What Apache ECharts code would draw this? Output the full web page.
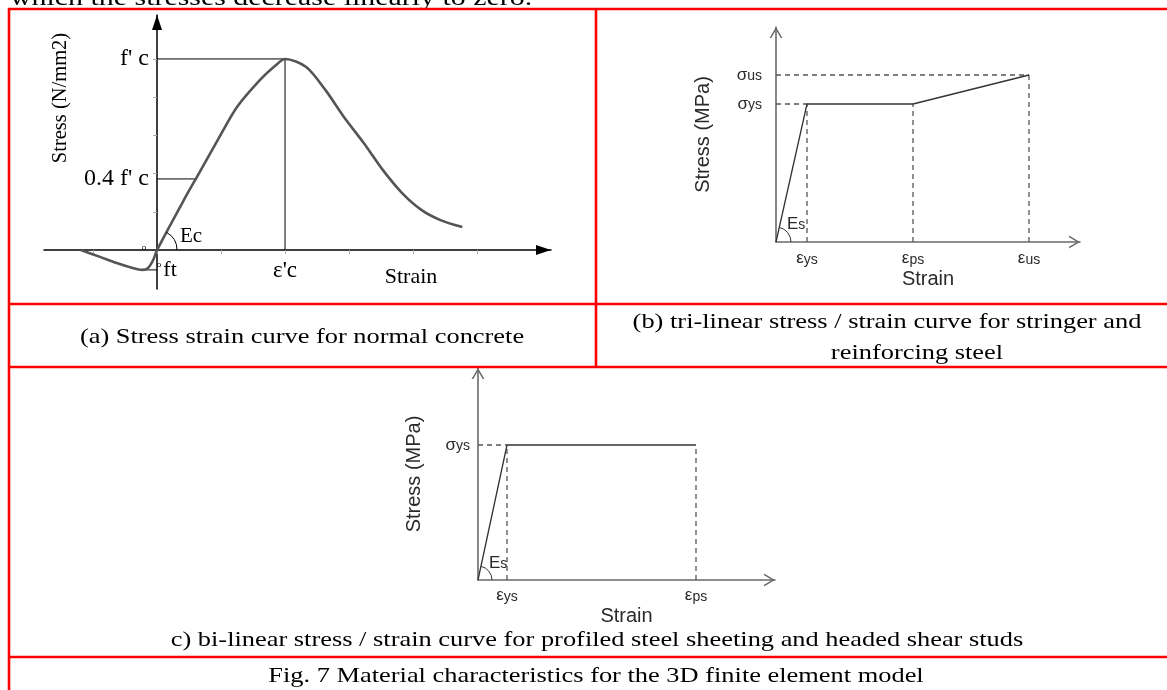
<!DOCTYPE html>
<html><head><meta charset="utf-8">
<script src="https://cdn.jsdelivr.net/npm/echarts@6/dist/echarts.min.js"></script>
<style>html,body{margin:0;padding:0;background:#fff}#c{width:1167px;height:690px}</style>
</head><body><div id="c"></div>
<script>
// ---------- Panel (a): normal concrete ----------
const aStrain = [-1.19,-0.89,-0.63,-0.38,-0.23,-0.14,-0.06,0,0.42,0.66,0.95,1.25,1.61,1.86,2.0,2.33,2.63,2.92,3.23,3.53,3.83,4.13,4.42,4.77];
const aStress = [0,-0.18,-0.34,-0.47,-0.52,-0.47,-0.26,0,1.31,2.02,2.88,3.74,4.45,4.84,5.0,4.79,4.19,3.48,2.80,2.09,1.49,1.05,0.79,0.60];
const aPeak = [2, 5];            // [epsilon'c, f'c]
const aForty = [0.62, 1.86];     // 0.4 f'c point on curve
const aFt = [-0.23, -0.52];      // tensile strength point
const aYTickValues = [1.86, 5];
const aYTickLabels = ["0.4 f' c", "f' c"];
const aXTickValues = [2];
const aXTickLabels = ["ε'c"];
const aMinorTicksY = [1, 2, 3, 4, 5];
const aMinorTicksX = [-1, 0, 1, 2, 3, 4, 5];

// ---------- Panel (b): tri-linear steel ----------
const bStrain = [0, 3.1, 13.7, 25.3];
const bStress = [0, 13.8, 13.8, 16.7];
const bXTickValues = [3.1, 13.7, 25.3];
const bXTickLabels = [['ε','ys'], ['ε','ps'], ['ε','us']];
const bYTickValues = [13.8, 16.7];
const bYTickLabels = [['σ','ys'], ['σ','us']];

// ---------- Panel (c): bi-linear steel ----------
const cStrain = [0, 2.9, 21.8];
const cStress = [0, 13.5, 13.5];
const cXTickValues = [2.9, 21.8];
const cXTickLabels = [['ε','ys'], ['ε','ps']];
const cYTickValues = [13.5];
const cYTickLabels = [['σ','ys']];

const SERIF = "'Liberation Serif','Times New Roman',serif";
const SANS = "'Liberation Sans',Arial,sans-serif";
const CHEVRON = 'path://M0,10 L6,0 L12,10 L10.4,10 L6,2.6 L1.6,10 Z';

function lookup(values, labels) {
  return function (v) {
    for (let i = 0; i < values.length; i++) if (Math.abs(values[i] - v) < 1e-6) return labels[i];
    return '';
  };
}
function richLookup(values, labels) {
  const f = lookup(values, labels);
  return function (v) { const l = f(v); return l ? '{g|' + l[0] + '}{s|' + l[1] + '}' : ''; };
}
const greekRich = {
  g: {fontFamily: SANS, fontSize: 17, color: '#2a2a2a'},
  s: {fontFamily: SANS, fontSize: 14, color: '#2a2a2a', padding: [3, 0, 0, 0]}
};

function pairs(xs, ys) { return xs.map((x, i) => [x, ys[i]]); }
function seg(p, q, gi, style) {
  return {type: 'line', xAxisIndex: gi, yAxisIndex: gi, data: [p, q], symbol: 'none', silent: true,
    animation: false, lineStyle: style, z: 2};
}
const thinBlack = {color: '#000', width: 1};
const dashGray = {color: '#555', width: 1.3, type: [5, 4]};
const solidGray = {color: '#333', width: 1.3};

const series = [
  // (a)
  seg([0, aPeak[1]], aPeak, 0, thinBlack),
  seg([aPeak[0], 0], aPeak, 0, thinBlack),
  seg([0, aForty[1]], aForty, 0, thinBlack),
  seg(aFt, [0, aFt[1]], 0, thinBlack),
  {type: 'line', xAxisIndex: 0, yAxisIndex: 0, data: pairs(aStrain, aStress), symbol: 'none',
    smooth: 0.3, silent: true, animation: false, z: 3,
    lineStyle: {color: '#555', width: 2.6}},
  // (b)
  seg([0, bStress[1]], [bStrain[1], bStress[1]], 1, dashGray),
  seg([0, bStress[3]], [bStrain[3], bStress[3]], 1, dashGray),
  seg([bStrain[1], 0], [bStrain[1], bStress[1]], 1, dashGray),
  seg([bStrain[2], 0], [bStrain[2], bStress[2]], 1, dashGray),
  seg([bStrain[3], 0], [bStrain[3], bStress[3]], 1, dashGray),
  {type: 'line', xAxisIndex: 1, yAxisIndex: 1, data: pairs(bStrain, bStress), symbol: 'none',
    silent: true, animation: false, z: 3, lineStyle: solidGray},
  // (c)
  seg([0, cStress[1]], [cStrain[1], cStress[1]], 2, dashGray),
  seg([cStrain[1], 0], [cStrain[1], cStress[1]], 2, dashGray),
  seg([cStrain[2], 0], [cStrain[2], cStress[2]], 2, dashGray),
  {type: 'line', xAxisIndex: 2, yAxisIndex: 2, data: pairs(cStrain, cStress), symbol: 'none',
    silent: true, animation: false, z: 3, lineStyle: solidGray}
];

function steelAxis(gi, isX, min, max, tv, tl, name, gap, lblMargin) {
  return {
    type: 'value', gridIndex: gi, min: min, max: max,
    axisLine: {show: true, onZero: false, lineStyle: {color: '#6a6a6a', width: 1.6},
      symbol: ['none', CHEVRON], symbolSize: [13, 11], symbolOffset: [0, -5.5]},
    axisTick: {show: false},
    splitLine: {show: false},
    axisLabel: {show: true, customValues: tv, formatter: richLookup(tv, tl), rich: greekRich, margin: lblMargin},
    name: name, nameLocation: 'middle', nameGap: gap, nameRotate: isX ? 0 : 90,
    nameTextStyle: {fontFamily: SANS, fontSize: 20, color: '#2a2a2a'}
  };
}

const option = {
  backgroundColor: '#fff',
  animation: false,
  grid: [
    {left: 44, top: 15, width: 507, height: 274, outerBoundsMode: 'none', containLabel: false},
    {left: 776, top: 27, width: 304, height: 215, outerBoundsMode: 'none', containLabel: false},
    {left: 478, top: 368, width: 297, height: 212, outerBoundsMode: 'none', containLabel: false}
  ],
  xAxis: [
    {type: 'value', gridIndex: 0, min: -1.766, max: 6.156, position: 'bottom', offset: 0,
      axisLine: {show: true, onZero: false, lineStyle: {color: '#000', width: 1.5},
        symbol: ['none', 'triangle'], symbolSize: [10, 15], symbolOffset: [0, -7.5]},
      axisTick: {show: true, customValues: aMinorTicksX, length: 4, lineStyle: {color: '#aaa'}},
      splitLine: {show: false},
      axisLabel: {show: true, customValues: aXTickValues, formatter: lookup(aXTickValues, aXTickLabels),
        fontFamily: SERIF, fontSize: 23, color: '#000', margin: 9}},
    steelAxis(1, true, 0, 30.4, bXTickValues, bXTickLabels, 'Strain', 27, 8),
    steelAxis(2, true, 0, 29.7, cXTickValues, cXTickLabels, 'Strain', 26, 7)
  ],
  yAxis: [
    {type: 'value', gridIndex: 0, min: -1.02, max: 6.15, position: 'left', offset: 0,
      axisLine: {show: true, onZero: false, lineStyle: {color: '#000', width: 1.5},
        symbol: ['none', 'triangle'], symbolSize: [10, 15], symbolOffset: [0, -7.5]},
      axisTick: {show: true, customValues: aMinorTicksY, length: 4, lineStyle: {color: '#aaa'}},
      splitLine: {show: false},
      axisLabel: {show: true, customValues: aYTickValues, formatter: lookup(aYTickValues, aYTickLabels),
        fontFamily: SERIF, fontSize: 24, color: '#000', margin: 8}},
    steelAxis(1, false, 0, 21.5, bYTickValues, bYTickLabels, 'Stress (MPa)', 63, 14),
    steelAxis(2, false, 0, 21.2, cYTickValues, cYTickLabels, 'Stress (MPa)', 54, 8)
  ],
  series: series
};

const chart = echarts.init(document.getElementById('c'));
chart.setOption(option);

function px(gi, pt) { return chart.convertToPixel({gridIndex: gi}, pt); }

// move panel (a) axes so they cross at the data origin (labels travel with them)
const oA0 = px(0, [0, 0]);
const gA = px(0, [option.xAxis[0].min, option.yAxis[0].min]);
chart.setOption({
  xAxis: [{offset: -(gA[1] - oA0[1])}, {}, {}],
  yAxis: [{offset: -(oA0[0] - gA[0])}, {}, {}]
});

// ---------- annotations anchored through the axes ----------
function arcFor(gi, pt, r, color) {
  const o = px(gi, [0, 0]);
  const p = px(gi, pt);
  const ang = Math.atan2(p[1] - o[1], p[0] - o[0]);
  return {type: 'arc', silent: true, z: 20,
    shape: {cx: o[0], cy: o[1], r: r, startAngle: ang, endAngle: 0, clockwise: true},
    style: {stroke: color, fill: 'none', lineWidth: 1}};
}
function txt(x, y, text, font, size, color, align, extra) {
  return Object.assign({type: 'text', x: x, y: y, silent: true, z: 20,
    style: {text: text, fontFamily: font, fontSize: size, fill: color, align: align || 'center', verticalAlign: 'middle'}}, extra || {});
}
function hline(x1, x2, y) { return {type: 'line', silent: true, z: 30, shape: {x1: x1, y1: y, x2: x2, y2: y}, style: {stroke: '#ff0000', lineWidth: 2.6}}; }
function vline(x, y1, y2) { return {type: 'line', silent: true, z: 30, shape: {x1: x, y1: y1, x2: x, y2: y2}, style: {stroke: '#ff0000', lineWidth: 2.6}}; }

const oA = px(0, [0, 0]);
const ftP = px(0, aFt);
const oB = px(1, [0, 0]);
const oC = px(2, [0, 0]);
const SX = 1.2; // the scanned page is stretched horizontally

const graphics = [
  // table frame
  vline(9, 8, 690), hline(8, 1167, 9), hline(8, 1167, 304), hline(8, 1167, 367), hline(8, 1167, 657),
  vline(596, 9, 367),
  // text cut off at the top
  txt(10, -1, 'which the stresses decrease linearly to zero.', SERIF, 23, '#000', 'left', {scaleX: 1.3}),
  // captions
  txt(302, 337, '(a) Stress strain curve for normal concrete', SERIF, 22, '#000', 'center', {scaleX: SX}),
  txt(887, 322, '(b) tri-linear stress / strain curve for stringer and', SERIF, 22, '#000', 'center', {scaleX: SX}),
  txt(917, 353, 'reinforcing steel', SERIF, 22, '#000', 'center', {scaleX: SX}),
  txt(597, 640, 'c) bi-linear stress / strain curve for profiled steel sheeting and headed shear studs', SERIF, 22, '#000', 'center', {scaleX: SX}),
  txt(596, 676, 'Fig. 7 Material characteristics for the 3D finite element model', SERIF, 22, '#000', 'center', {scaleX: SX}),
  // panel (a) titles & annotations
  txt(61, 98, 'Stress (N/mm2)', SERIF, 20.5, '#000', 'center', {rotation: Math.PI / 2}),
  txt(411, 277, 'Strain', SERIF, 22, '#000'),
  txt(ftP[0] + 21, ftP[1], 'ft', SERIF, 22, '#000', 'left'),
  txt(oA[0] + 23, oA[1] - 14, 'Ec', SERIF, 21, '#000', 'left'),
  txt(oA[0] - 13, oA[1] - 2, 'o', SANS, 8, '#000'),
  txt(oA[0] + 2, ftP[1] - 5, 'o', SANS, 8, '#000'),
  arcFor(0, [aStrain[8], aStress[8]], 20, '#000'),
  // panel (b) / (c) Es
  arcFor(1, [bStrain[1], bStress[1]], 15, '#333'),
  txt(oB[0] + 11, oB[1] - 18, '{g|E}{s|s}', SANS, 17, '#2a2a2a', 'left'),
  arcFor(2, [cStrain[1], cStress[1]], 14, '#333'),
  txt(oC[0] + 11, oC[1] - 17, '{g|E}{s|s}', SANS, 17, '#2a2a2a', 'left')
];
graphics.forEach(g => { if (g.type === 'text' && g.style.text.indexOf('{g|') === 0) g.style.rich = greekRich; });
chart.setOption({graphic: graphics});
</script></body></html>
